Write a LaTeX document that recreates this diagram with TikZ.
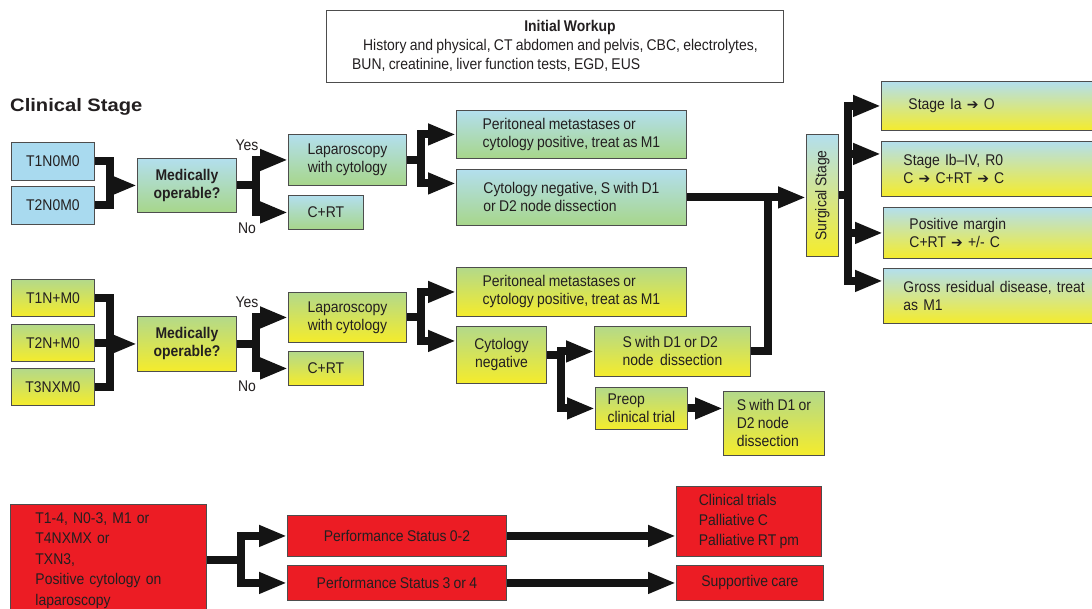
\documentclass[tikz,border=0pt]{standalone}
\usepackage{fontspec}
\setmainfont{Liberation Sans}[FakeStretch=0.9,WordSpace=0.85]
\newfontfamily\clinfont{Liberation Sans}[FakeStretch=1.12]
\newfontfamily\symfont{DejaVu Sans}
\usetikzlibrary{arrows.meta}
\definecolor{lblue}{HTML}{A9DAEF}
\definecolor{sky}{HTML}{B3DFEE}
\definecolor{grn}{HTML}{A7D68A}
\definecolor{grn2}{HTML}{B3D98A}
\definecolor{yel}{HTML}{F5EC2B}
\definecolor{redc}{HTML}{EC1C24}
\definecolor{bord}{HTML}{4D4D4D}
\definecolor{txt}{HTML}{231F20}
\newcommand\rar{{\symfont\fontsize{14}{14}\selectfont ➔}}
\begin{document}
\begin{tikzpicture}[x=1pt,y=-1pt,
  every node/.style={font=\fontsize{15.5}{18}\selectfont, text=txt},
  box/.style={draw=bord, line width=0.9pt, inner sep=2pt, anchor=north west},
  cbox/.style={box, align=center},
  lbox/.style={box, align=left},
  blu/.style={fill=lblue},
  bg/.style={top color=sky, bottom color=grn},
  gy/.style={top color=grn2, bottom color=yel},
  by/.style={top color=sky, bottom color=yel},
  rd/.style={fill=redc},
  bar/.style={line width=8pt, draw=black!92},
  arr/.style={bar, -{Triangle[length=28pt,width=20pt]}},
  lab/.style={inner sep=0pt}
]
\fill[white] (0,0) rectangle (1092,609);
\useasboundingbox (0,0) rectangle (1092,609);

% header
\node[box, minimum width=457pt, minimum height=72pt, font=\fontsize{15.5}{19}\selectfont] (work) at (326,10)
 {\begin{tabular}{@{}l@{}}\multicolumn{1}{@{}c@{}}{\hspace{30pt}\textbf{Initial Workup}}\\
 \hspace*{11pt}History and physical, CT abdomen and pelvis, CBC, electrolytes,\\
 BUN, creatinine, liver function tests, EGD, EUS\end{tabular}};
\node[lab, anchor=west, font=\clinfont\fontsize{18}{20}\selectfont\bfseries] (clin) at (10,107) {Clinical Stage};

% upper branch
\node[cbox, blu, minimum width=83pt, minimum height=38pt] (t1) at (11,142) {T1N0M0};
\node[cbox, blu, minimum width=83pt, minimum height=38pt] (t2) at (11,186) {T2N0M0};
\node[cbox, bg, minimum width=99pt, minimum height=54pt, font=\fontsize{15.5}{18}\selectfont\bfseries] (mo1) at (137,158) {Medically\\operable?};
\node[lab] (yes1) at (247,145) {Yes};
\node[lab] (no1) at (247,228) {No};
\node[cbox, bg, minimum width=118pt, minimum height=51pt] (lap1) at (288,134) {Laparoscopy\\with cytology};
\node[cbox, bg, minimum width=75pt, minimum height=34pt] (crt1) at (288,195) {C+RT};
\node[lbox, bg, minimum width=230pt, minimum height=48pt] (per1) at (456,110) {Peritoneal metastases or\\cytology positive, treat as M1};
\node[lbox, bg, minimum width=230pt, minimum height=56pt] (cneg1) at (456,169) {Cytology negative, S with D1\\or D2 node dissection};

% surgical stage
\node[cbox, by, minimum width=32pt, minimum height=122pt] (ss) at (806,134) {\rotatebox{90}{Surgical Stage}};
\node[lbox, by, minimum height=49pt, text width=200pt, inner xsep=22pt] (sIa) at (881,81) {\hspace*{5pt}Stage Ia \rar{} O};
\node[lbox, by, minimum height=55pt, text width=200pt, inner xsep=22pt] (sIb) at (881,141) {Stage Ib–IV, R0\\C \rar{} C+RT \rar{} C};
\node[lbox, by, minimum height=51pt, text width=200pt, inner xsep=22pt] (spm) at (883,207) {\hspace*{4pt}Positive margin\\\hspace*{4pt}C+RT \rar{} +/- C};
\node[lbox, by, minimum height=55pt, text width=200pt, inner xsep=20pt] (sgr) at (883,268) {Gross residual disease, treat\\as M1};

% lower branch
\node[cbox, gy, minimum width=83pt, minimum height=37pt] (t3) at (11,279) {T1N+M0};
\node[cbox, gy, minimum width=83pt, minimum height=37pt] (t4) at (11,324) {T2N+M0};
\node[cbox, gy, minimum width=83pt, minimum height=37pt] (t5) at (11,368) {T3NXM0};
\node[cbox, gy, minimum width=99pt, minimum height=55pt, font=\fontsize{15.5}{18}\selectfont\bfseries] (mo2) at (137,316) {Medically\\operable?};
\node[lab] (yes2) at (247,302) {Yes};
\node[lab] (no2) at (247,386) {No};
\node[cbox, gy, minimum width=118pt, minimum height=50pt] (lap2) at (288,292) {Laparoscopy\\with cytology};
\node[cbox, gy, minimum width=75pt, minimum height=34pt] (crt2) at (288,351) {C+RT};
\node[lbox, gy, minimum width=230pt, minimum height=49pt] (per2) at (456,267) {Peritoneal metastases or\\cytology positive, treat as M1};
\node[cbox, gy, minimum width=90pt, minimum height=57pt] (cneg2) at (456,326) {Cytology\\negative};
\node[lbox, gy, minimum width=156pt, minimum height=50pt] (sd1) at (594,326) {S with D1 or D2\\node\ \ dissection};
\node[lbox, gy, minimum width=92pt, minimum height=42pt] (preop) at (595,387) {Preop\\clinical trial};
\node[lbox, gy, minimum width=101pt, minimum height=64pt] (sd2) at (723,391) {S with D1 or\\D2 node\\dissection};

% red branch
\node[lbox, rd, minimum height=112pt, text width=146pt, inner xsep=25pt, font=\fontsize{15.5}{20.5}\selectfont] (red1) at (10,504) {T1-4, N0-3, M1 or\\T4NXMX or\\TXN3,\\Positive cytology on\\laparoscopy};
\node[cbox, rd, minimum width=219pt, minimum height=41pt] (ps1) at (287,515) {Performance Status 0-2};
\node[cbox, rd, minimum width=219pt, minimum height=35pt] (ps2) at (287,565) {Performance Status 3 or 4};
\node[lbox, rd, minimum width=145pt, minimum height=70pt, font=\fontsize{15.5}{20}\selectfont] (ct) at (676,486) {Clinical trials\\Palliative C\\Palliative RT pm};
\node[cbox, rd, minimum width=147pt, minimum height=35pt] (sc) at (676,565) {Supportive care};

% connectors upper
\coordinate (j1) at ([xshift=-27pt]mo1.west);
\draw[bar] (t1.east) -| (j1);
\draw[bar] (t2.east) -| (j1);
\draw[arr] (j1) -- (mo1.west);
\coordinate (b1) at ([xshift=19pt]mo1.east);
\draw[bar] (mo1.east) -- (b1);
\draw[arr] (b1) |- (lap1.west);
\draw[arr] (b1) |- (crt1.west);
\coordinate (c1) at ([xshift=14pt]lap1.east);
\draw[bar] (lap1.east) -- (c1);
\draw[arr] (c1) |- (per1.west);
\draw[arr] (c1) |- ([yshift=14pt]cneg1.west);
\coordinate (m) at ([xshift=-38pt]ss.west);
\draw[arr] (cneg1.east) -- (cneg1.east -| ss.west);
\coordinate (s) at ([xshift=9pt]ss.east);
\draw[bar] (ss.east) -- (s);
\draw[arr] (s) |- (sIa.west);
\draw[arr] (s) |- ([yshift=15pt]sIb.west);
\draw[arr] (s) |- (spm.west);
\draw[arr] (s) |- ([yshift=15pt]sgr.west);

% connectors lower
\coordinate (j2) at ([xshift=-27pt]mo2.west);
\draw[bar] (t3.east) -| (j2);
\draw[bar] (t4.east) -| (j2);
\draw[bar] (t5.east) -| (j2);
\draw[arr] (j2) -- (mo2.west);
\coordinate (b2) at ([xshift=19pt]mo2.east);
\draw[bar] (mo2.east) -- (b2);
\draw[arr] (b2) |- (lap2.west);
\draw[arr] (b2) |- (crt2.west);
\coordinate (c2) at ([xshift=14pt]lap2.east);
\draw[bar] (lap2.east) -- (c2);
\draw[arr] (c2) |- (per2.west);
\draw[arr] (c2) |- ([yshift=14pt]cneg2.west);
\coordinate (d2) at ([xshift=14pt]cneg2.east);
\draw[bar] (cneg2.east) -- (d2);
\draw[arr] (d2) |- (sd1.west);
\draw[arr] (d2) |- (preop.west);
\draw[arr] (preop.east) -- (preop.east -| sd2.west);
\draw[bar] (sd1.east) -| (m);

% connectors red
\coordinate (r) at ([xshift=34pt]red1.east);
\draw[bar] (red1.east) -- (r);
\draw[arr] (r) |- (ps1.west);
\draw[arr] (r) |- (ps2.west);
\draw[arr] (ps1.east) -- (ps1.east -| ct.west);
\draw[arr] (ps2.east) -- (sc.west);
\end{tikzpicture}
\end{document}
